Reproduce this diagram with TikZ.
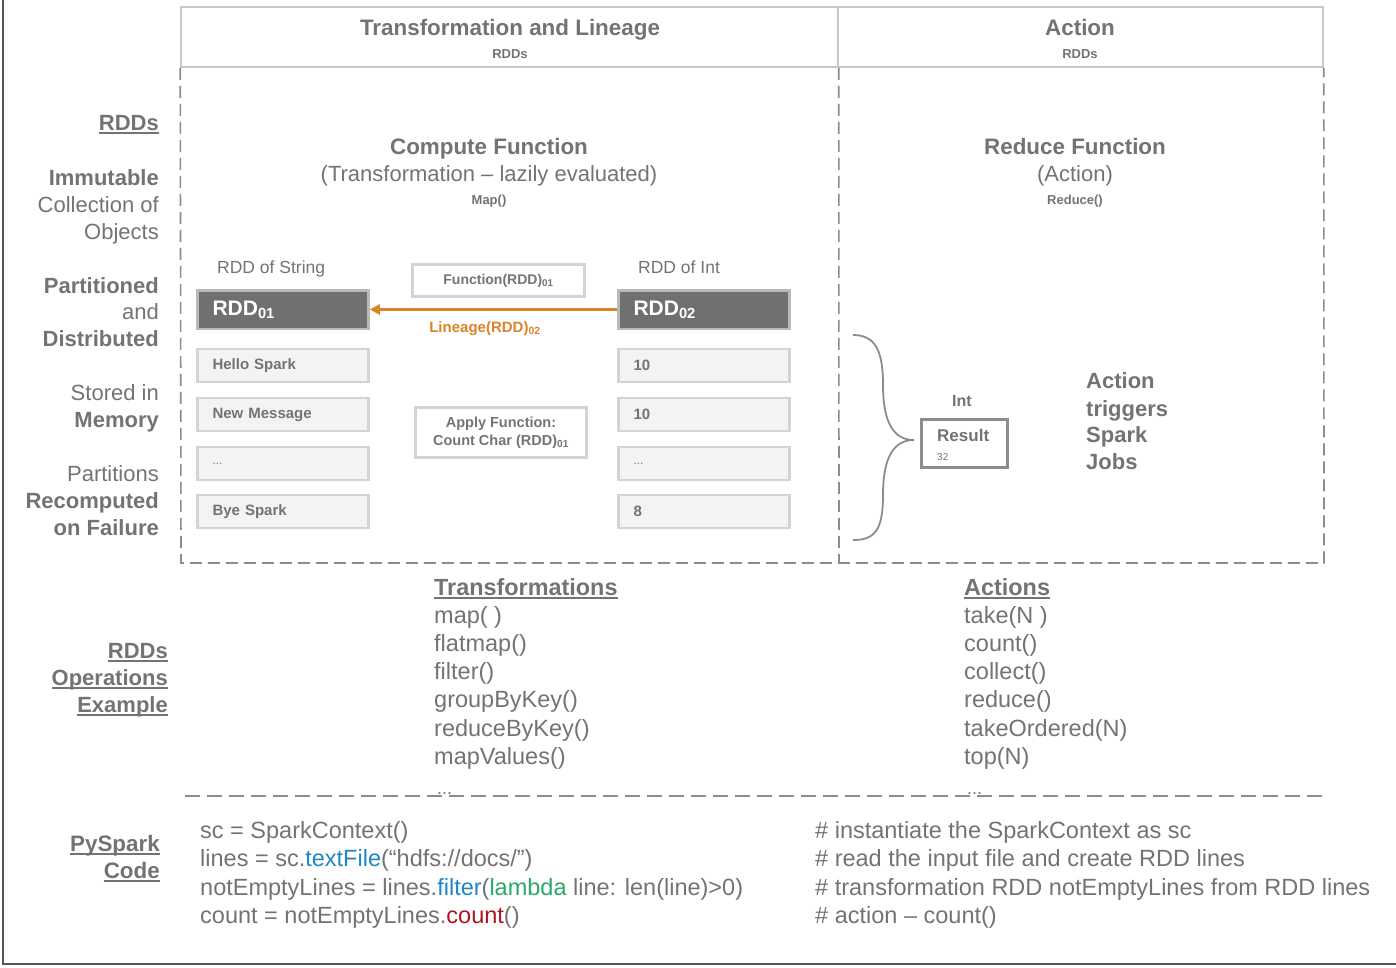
\documentclass[tikz,border=0pt]{standalone}
\usepackage{fontspec}
\setmainfont{Liberation Sans}
\usepackage{tikz}
\usetikzlibrary{arrows.meta,positioning}

\definecolor{txtgray}{RGB}{115,115,115}
\definecolor{hdrline}{RGB}{200,200,200}
\definecolor{dashgray}{RGB}{140,140,140}
\definecolor{cellfill}{RGB}{243,243,243}
\definecolor{cellline}{RGB}{212,212,212}
\definecolor{darkfill}{RGB}{112,112,112}
\definecolor{darkline}{RGB}{185,185,185}
\definecolor{lineageorange}{RGB}{218,132,42}
\definecolor{codeblue}{RGB}{30,135,195}
\definecolor{codegreen}{RGB}{40,168,105}
\definecolor{codered}{RGB}{175,20,30}
\definecolor{framegray}{RGB}{85,85,85}

\newcommand\fsz[1]{\fontsize{#1}{#1}\selectfont}
\newcommand\ulword[1]{\setbox0\hbox{#1}\rlap{\rule[-3.5pt]{\wd0}{1.6pt}}\box0}

\begin{document}
\begin{tikzpicture}
                    [x=1pt, y=-1pt, every node/.style={inner sep=0pt, text=txtgray}]
                    \tikzset{lbl/.style = {anchor=base east, font=\fsz{22}},
                             ttl/.style = {anchor=base, font=\fsz{22.4}\bfseries},
                             sub/.style = {anchor=base, font=\fsz{13}\bfseries},
                             item/.style = {anchor=base west, font=\fsz{23.5}},
                             hdrbox/.style = {draw=hdrline, line width=1.5pt, minimum height=60pt},
                             cell/.style = {draw=cellline, line width=2.5pt, fill=cellfill, text width=141pt,
                                            inner xsep=15pt, minimum height=33pt, align=left, font=\fsz{15}\bfseries},
                             dark/.style = {cell, draw=darkline, fill=darkfill, minimum height=38.5pt,
                                            font=\fsz{21}\bfseries, text=white},
                             fbox/.style = {draw=cellline, line width=2.5pt, align=center, font=\fsz{14.5}\bfseries},
                             dashline/.style = {draw=dashgray, line width=1.6pt, dash pattern=on 12pt off 6pt},
                             lineage/.style = {draw=lineageorange, line width=2.2pt, -{Triangle[length=10pt,width=10pt]}}}
                    \useasboundingbox (0,0) rectangle (1396,967);
                    \draw[framegray, line width=2pt] (3,0) -- (3,964) -- (1396,964);

                    \node[hdrbox, minimum width=657pt] (hdrtrans) at (509.5,37) {};
                    \node[hdrbox, minimum width=485pt] (hdraction) at (1080.5,37) {};
                    \node[ttl] (ttltrans) at (510,35) {Transformation and Lineage};
                    \node[sub] (subtrans) at (510,58.5) {RDDs};
                    \node[ttl] (ttlaction) at (1080,35) {Action};
                    \node[sub] (subaction) at (1080,58.5) {RDDs};

                    \draw[dashline] (hdrtrans.south west) -- (181,563) -- (1324,563) -- (hdraction.south east);
                    \draw[dashline] (hdrtrans.south east) -- (839,563);

                    \foreach \n/\y/\t in {a/130/{\ulword{\bfseries RDDs}},
                                          b/185/{\bfseries Immutable}, c/212/Collection of, d/239/Objects,
                                          e/293/{\bfseries Partitioned}, f/319/and, g/346/{\bfseries Distributed},
                                          h/400/Stored in, i/427/{\bfseries Memory},
                                          j/481/Partitions, k/508/{\bfseries Recomputed}, l/535/{\bfseries on Failure}}
                        \node[lbl] (side\n) at (159,\y) {\t};

                    \node[ttl] (compute) at (489,154) {Compute Function};
                    \node[anchor=base, font=\fsz{22}] (computesub) at (489,181) {(Transformation -- lazily evaluated)};
                    \node[sub] (mapfn) at (489,204) {Map()};
                    \node[ttl] (reduce) at (1075,154) {Reduce Function};
                    \node[anchor=base, font=\fsz{22}] (reducesub) at (1075,181) {(Action)};
                    \node[sub] (reducefn) at (1075,204) {Reduce()};

                    \node[anchor=base west, font=\fsz{17.5}] (strlbl) at (217,273) {RDD of String};
                    \node[anchor=base west, font=\fsz{17.5}] (intlbl) at (638,273) {RDD of Int};
                    \node[dark] (rdd01) at (283,309.5) {RDD\textsubscript{01}};
                    \node[dark] (rdd02) at (704,309.5) {RDD\textsubscript{02}};
                    \node[fbox, minimum width=172pt, minimum height=32pt, font=\fsz{14}\bfseries] (func) at (498.5,280.5) {Function(RDD)\textsubscript{01}};
                    \draw[lineage] (rdd02) -- (rdd01);
                    \node[anchor=base, font=\fsz{15}\bfseries, text=lineageorange] (lineagelbl) at (485,332) {Lineage(RDD)\textsubscript{02}};

                    \foreach \n/\y/\s/\i in {1/365.5/Hello Spark/10, 2/414.5/New Message/10,
                                             3/463.5/{\mdseries\fsz{12}...}/{\mdseries\fsz{12}...}, 4/511.5/Bye Spark/8} {
                        \node[cell] (str\n) at (283,\y) {\s};
                        \node[cell] (int\n) at (704,\y) {\i};
                    }
                    \node[fbox, minimum width=171pt, minimum height=50pt] (apply) at (501,432.5) {Apply Function:\\[3pt]Count Char (RDD)\textsubscript{01}};

                    \draw[dashgray, line width=1.8pt] (853,335) .. controls (875,335) and (883,350) .. (883,385)
                        .. controls (883,425) and (895,440) .. (914,440)
                        .. controls (895,440) and (883,455) .. (883,495)
                        .. controls (883,530) and (875,540) .. (853,540);
                    \node[anchor=base, font=\fsz{16}\bfseries] (intres) at (962,406) {Int};
                    \node[draw=dashgray, line width=2.5pt, minimum width=86pt, minimum height=48pt] (result) at (964.5,443.5) {};
                    \node[anchor=base west, font=\fsz{17}\bfseries] (resultlbl) at (937,441) {Result};
                    \node[anchor=base west, font=\fsz{10}] (resultval) at (937,460) {32};
                    \foreach \n/\y/\t in {a/388/Action, b/416/triggers, c/442/Spark, d/469/Jobs}
                        \node[anchor=base west, font=\fsz{22}\bfseries] (jobs\n) at (1086,\y) {\t};

                    \node[item, font=\fsz{23.4}\bfseries] (translbl) at (434,595.5) {\ulword{Transformations}};
                    \foreach \n/\y/\t in {a/623.5/map( ), b/651.5/flatmap(), c/679.5/filter(), d/707.5/groupByKey(),
                                          e/736.5/reduceByKey(), f/764.5/mapValues()}
                        \node[item] (trans\n) at (434,\y) {\t};
                    \node[item, font=\fsz{23.4}\bfseries] (actlbl) at (964,595.5) {\ulword{Actions}};
                    \foreach \n/\y/\t in {a/623.5/take(N ), b/651.5/count(), c/679.5/collect(), d/707.5/reduce(),
                                          e/736.5/takeOrdered(N), f/764.5/top(N)}
                        \node[item] (act\n) at (964,\y) {\t};
                    \node[item, font=\fsz{18}] (transmore) at (437,794) {...};
                    \node[item, font=\fsz{18}] (actmore) at (967,794) {...};
                    \draw[dashline, dash pattern=on 15pt off 7pt] (185,796) -- (1323,796);

                    \foreach \n/\y/\t in {a/658/RDDs, b/685/Operations, c/712/Example}
                        \node[lbl, font=\fsz{22}\bfseries] (ops\n) at (168,\y) {\ulword{\t}};
                    \foreach \n/\y/\t in {a/851/PySpark, b/878/Code}
                        \node[lbl, font=\fsz{22.4}\bfseries] (code\n) at (160,\y) {\ulword{\t}};

                    \foreach \n/\y/\t/\c in {a/838.5/{sc = SparkContext()}/{\# instantiate the SparkContext as sc},
                                             b/866.5/{lines = sc.\textcolor{codeblue}{textFile}(“hdfs://docs/”)}/{\# read the input file and create RDD lines},
                                             c/895.5/{notEmptyLines = lines.\textcolor{codeblue}{filter}(\textcolor{codegreen}{lambda} line: len(line)>0)}/{\# transformation RDD notEmptyLines from RDD lines},
                                             d/923.5/{count = notEmptyLines.\textcolor{codered}{count}()}/{\# action -- count()}} {
                        \node[item] (line\n) at (200,\y) {\t};
                        \node[item] (cmt\n) at (815,\y) {\c};
                    }
                \end{tikzpicture}
\end{document}
